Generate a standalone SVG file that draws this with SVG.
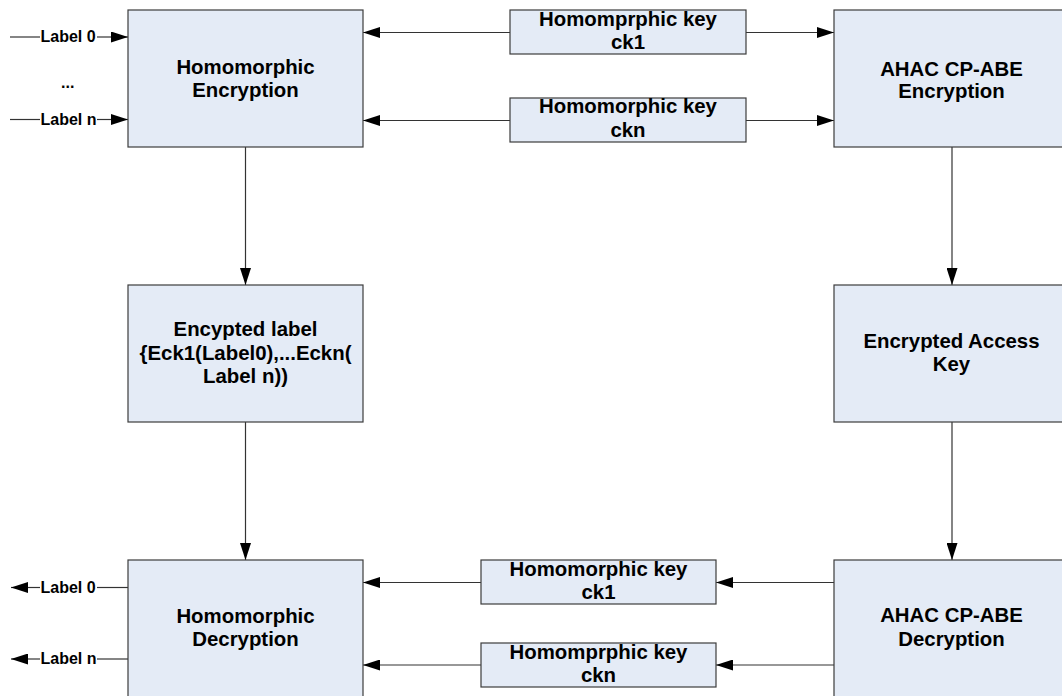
<svg xmlns="http://www.w3.org/2000/svg" width="1062" height="696" viewBox="0 0 1062 696">
<style>
.box{fill:#E4EBF6;stroke:#3c3c3c;stroke-width:1.2}
.t{font-family:"Liberation Sans",Arial,sans-serif;font-weight:bold;font-size:20.4px;fill:#000;text-anchor:middle}
.l{font-family:"Liberation Sans",Arial,sans-serif;font-weight:bold;font-size:16px;fill:#000}
.c{stroke:#333;stroke-width:1.2;fill:none}
</style>
<defs>
<marker id="ah" markerUnits="userSpaceOnUse" markerWidth="17" markerHeight="11" refX="17" refY="5.5" orient="auto" viewBox="0 0 17 11">
<path d="M0,0 L17,5.5 L0,11 z" fill="#000"/>
</marker>
</defs>
<rect width="1062" height="696" fill="#fff"/>
<g id="connectors">
<line class="c" x1="510" y1="32.5" x2="363" y2="32.5" marker-end="url(#ah)"/>
<line class="c" x1="746" y1="32.5" x2="834" y2="32.5" marker-end="url(#ah)"/>
<line class="c" x1="510" y1="120.5" x2="363" y2="120.5" marker-end="url(#ah)"/>
<line class="c" x1="746" y1="120.5" x2="834" y2="120.5" marker-end="url(#ah)"/>
<line class="c" x1="10" y1="37" x2="40" y2="37"/>
<line class="c" x1="97" y1="37" x2="128" y2="37" marker-end="url(#ah)"/>
<line class="c" x1="10" y1="119.5" x2="40" y2="119.5"/>
<line class="c" x1="97" y1="119.5" x2="128" y2="119.5" marker-end="url(#ah)"/>
<line class="c" x1="245.5" y1="147" x2="245.5" y2="285" marker-end="url(#ah)"/>
<line class="c" x1="245.5" y1="422" x2="245.5" y2="560" marker-end="url(#ah)"/>
<line class="c" x1="952" y1="147" x2="952" y2="285" marker-end="url(#ah)"/>
<line class="c" x1="952" y1="422" x2="952" y2="560" marker-end="url(#ah)"/>
<line class="c" x1="834" y1="582.5" x2="716" y2="582.5" marker-end="url(#ah)"/>
<line class="c" x1="481" y1="582.5" x2="363" y2="582.5" marker-end="url(#ah)"/>
<line class="c" x1="834" y1="665" x2="716" y2="665" marker-end="url(#ah)"/>
<line class="c" x1="481" y1="665" x2="363" y2="665" marker-end="url(#ah)"/>
<line class="c" x1="128" y1="587.5" x2="97" y2="587.5"/>
<line class="c" x1="40" y1="587.5" x2="11" y2="587.5" marker-end="url(#ah)"/>
<line class="c" x1="128" y1="659" x2="97" y2="659"/>
<line class="c" x1="40" y1="659" x2="11" y2="659" marker-end="url(#ah)"/>
</g>
<g id="inputs">
<text class="l" x="40.5" y="42">Label 0</text>
<text class="l" x="61" y="88">...</text>
<text class="l" x="40.5" y="124.5">Label n</text>
</g>
<g id="outputs">
<text class="l" x="40.5" y="592.5">Label 0</text>
<text class="l" x="40.5" y="664">Label n</text>
</g>
<g id="homEnc">
<rect class="box" x="128" y="10" width="235" height="137"/>
<text class="t" x="245.5" y="74">Homomorphic</text>
<text class="t" x="245.5" y="97">Encryption</text>
</g>
<g id="key1Top">
<rect class="box" x="510" y="10" width="236" height="44"/>
<text class="t" x="628" y="25.5">Homomprphic key</text>
<text class="t" x="628" y="48.5">ck1</text>
</g>
<g id="keynTop">
<rect class="box" x="510" y="98" width="236" height="44"/>
<text class="t" x="628" y="113">Homomorphic key</text>
<text class="t" x="628" y="136.5">ckn</text>
</g>
<g id="abeEnc">
<rect class="box" x="834" y="10" width="235" height="137"/>
<text class="t" x="951.5" y="76">AHAC CP-ABE</text>
<text class="t" x="951.5" y="98">Encryption</text>
</g>
<g id="encLabel">
<rect class="box" x="128" y="285" width="235" height="137"/>
<text class="t" x="245.5" y="336">Encypted label</text>
<text class="t" x="245.5" y="359.5">{Eck1(Label0),...Eckn(</text>
<text class="t" x="245.5" y="382.5">Label n))</text>
</g>
<g id="encKey">
<rect class="box" x="834" y="285" width="235" height="137"/>
<text class="t" x="951.5" y="348">Encrypted Access</text>
<text class="t" x="951.5" y="370.5">Key</text>
</g>
<g id="homDec">
<rect class="box" x="128" y="560" width="235" height="137"/>
<text class="t" x="245.5" y="623">Homomorphic</text>
<text class="t" x="245.5" y="646">Decryption</text>
</g>
<g id="key1Bot">
<rect class="box" x="481" y="560" width="235" height="44"/>
<text class="t" x="598.5" y="575.5">Homomorphic key</text>
<text class="t" x="598.5" y="599">ck1</text>
</g>
<g id="keynBot">
<rect class="box" x="481" y="643" width="235" height="44"/>
<text class="t" x="598.5" y="658.5">Homomprphic key</text>
<text class="t" x="598.5" y="681.5">ckn</text>
</g>
<g id="abeDec">
<rect class="box" x="834" y="560" width="235" height="137"/>
<text class="t" x="951.5" y="622">AHAC CP-ABE</text>
<text class="t" x="951.5" y="645.5">Decryption</text>
</g>
</svg>
